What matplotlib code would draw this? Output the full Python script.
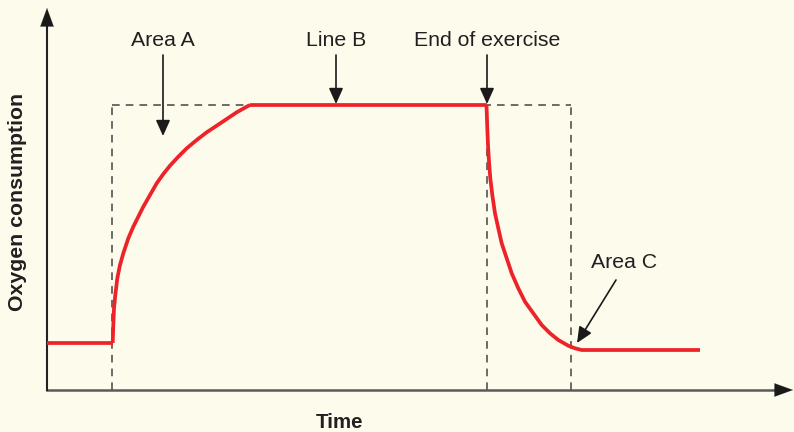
import matplotlib.pyplot as plt
from matplotlib.patches import FancyArrowPatch

plt.rcParams['font.family'] = ['Liberation Sans', 'DejaVu Sans']

# Oxygen consumption curve (time, oxygen)
rest_time = [0, 65.7]
rest_o2 = [47, 47]
rise_time = [65.7, 66.3, 67, 68.3, 70.3, 73, 76.3, 81.3, 86.3, 91.3, 96.3, 103,
             109.7, 116.3, 123, 131.3, 139.7, 149.7, 159.7, 169.7, 179.7, 189.7,
             199.7, 203]
rise_o2 = [47, 65, 81.7, 95, 111.7, 125, 136.7, 151.7, 163.3, 173.3, 183.3, 195,
           206.7, 216, 224.3, 233.3, 241.7, 250, 257.7, 264.3, 271, 277.7,
           283.3, 285]
steady_time = [203, 439.5]
steady_o2 = [285, 285]
recovery_time = [439.5, 440.3, 441, 442, 443.3, 445.3, 448, 451.3, 454.7, 459.7,
                 464.7, 471.3, 478, 486.3, 494.7, 503, 511.3, 521.3, 528, 534.7,
                 653]
recovery_o2 = [285, 261.7, 245, 228.3, 211.7, 195, 176.7, 161.7, 146.7, 131.7,
               116.7, 101.7, 88.3, 76.7, 65, 56.7, 50, 44.3, 41.7, 40, 40]

# dashed guide box
exercise_start = 65
exercise_end = 440
recovery_end = 524
steady_level = 285

# annotation labels: (text, text position, arrow start, arrow end)
labels = [
    ("Area A", (116, 350), (116, 335), (116, 254)),
    ("Line B", (289, 350), (289, 335), (289, 286)),
    ("End of exercise", (440, 350), (440, 335), (440, 286)),
    ("Area C", (577, 127), (569, 110), (530, 47)),
]

bg = '#fdfbec'
red = '#ee2229'
dash_col = '#444444'

fig = plt.figure(figsize=(7.94, 4.32), dpi=100, facecolor=bg)
ax = fig.add_axes([0, 0, 1, 1])
ax.set_facecolor(bg)
ax.set_xlim(-47, 747)
ax.set_ylim(-42, 390)
ax.axis('off')

# dashed box lines
dash = dict(color=dash_col, lw=1.1, dashes=(5, 4))
ax.plot([exercise_start, exercise_start], [0, steady_level], **dash)
ax.plot([exercise_end, exercise_end], [0, steady_level], **dash)
ax.plot([recovery_end, recovery_end], [0, steady_level], **dash)
ax.plot([exercise_start, recovery_end], [steady_level, steady_level], **dash)

# oxygen curve
for t, o in [(rest_time, rest_o2), (rise_time, rise_o2),
             (steady_time, steady_o2), (recovery_time, recovery_o2)]:
    ax.plot(t, o, color=red, lw=2.7, solid_joinstyle='round',
            solid_capstyle='butt', zorder=3)

# axes with arrow heads
ax.plot([0, 735], [0, 0], color='#5a5a5a', lw=1.8, zorder=2)
ax.plot([0, 0], [0, 372], color='#222222', lw=1.5, zorder=2)
head = '-|>,head_length=0.55,head_width=0.2'
for start, end in [((725, 0), (746, 0)), ((0, 360), (0, 382))]:
    ax.add_patch(FancyArrowPatch(start, end, arrowstyle=head, mutation_scale=24,
                                 color='#1a1a1a', lw=0.1, shrinkA=0, shrinkB=0,
                                 zorder=4))

# labels and pointer arrows
pointer = '-|>,head_length=0.6,head_width=0.27'
for text, tpos, a0, a1 in labels:
    ax.text(tpos[0], tpos[1], text, ha='center', va='center', fontsize=15.3,
            color='#231f20')
    ax.add_patch(FancyArrowPatch(a0, a1, arrowstyle=pointer, mutation_scale=16,
                                 color='#1a1a1a', lw=1.2, shrinkA=0, shrinkB=0,
                                 zorder=5))

ax.text(-29, 188, 'Oxygen consumption', rotation=90, ha='center', va='center',
        fontsize=15.3, fontweight='bold', color='#231f20')
ax.text(293, -33, 'Time', ha='center', va='center', fontsize=14.8,
        fontweight='bold', color='#231f20')

plt.savefig('out.png', dpi=100, facecolor=bg)
